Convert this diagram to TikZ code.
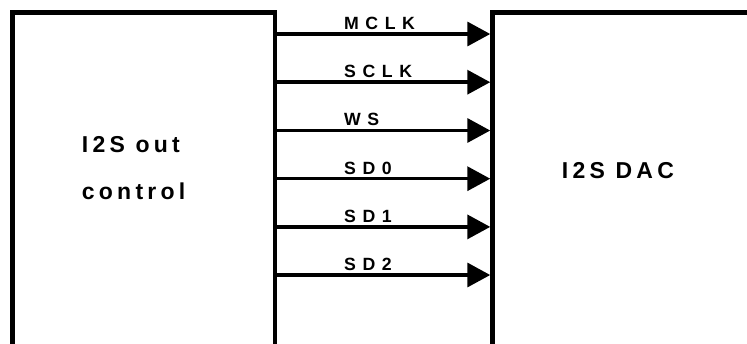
\documentclass[tikz,border=0pt]{standalone}
\usepackage{fontspec}
\setmainfont{Liberation Sans}
\newfontfamily\lblfont[LetterSpace=37]{Liberation Sans}
\newfontfamily\boxfont[LetterSpace=18.5]{Liberation Sans}
\usetikzlibrary{arrows.meta}
\begin{document}
\begin{tikzpicture}[x=1pt,y=-1pt,
  blk/.style={draw, line width=4.5pt, minimum width=262.5pt, minimum height=360pt,
              anchor=north west, outer sep=0pt, inner sep=0pt},
  sig/.style={line width=3.5pt, shorten >=2.25pt, -{Triangle[length=23pt,width=24pt]}},
  lbl/.style={anchor=base west, inner sep=0pt, font=\lblfont\bfseries\fontsize{17.7}{20}\selectfont},
  btxt/.style={anchor=base west, inner sep=0pt, font=\boxfont\bfseries\fontsize{23}{26}\selectfont}]
\useasboundingbox (0,0) rectangle (747,343);
\clip (0,0) rectangle (747,343);
\node[blk] (ctl) at (12.5,12.5) {};
\node[blk, minimum width=300pt] (dac) at (492.5,12.5) {};
\node[btxt] (ctlt1) at (81.7,152.3) {I2S out};
\node[btxt] (ctlt2) at (81.7,199) {control};
\node[btxt] (dact) at (561.7,178.3) {I2S DAC};
\foreach \y/\t [count=\i] in {34/MCLK, 82.2/SCLK, 130.5/WS, 178.7/SD0, 226.9/SD1, 275/SD2} {
  \coordinate (r\i) at (0,\y);
  \draw[sig] (ctl.east |- r\i) -- (dac.west |- r\i);
  \node[lbl] (l\i) at (344,\y-4.7) {\t};
}
\end{tikzpicture}
\end{document}
